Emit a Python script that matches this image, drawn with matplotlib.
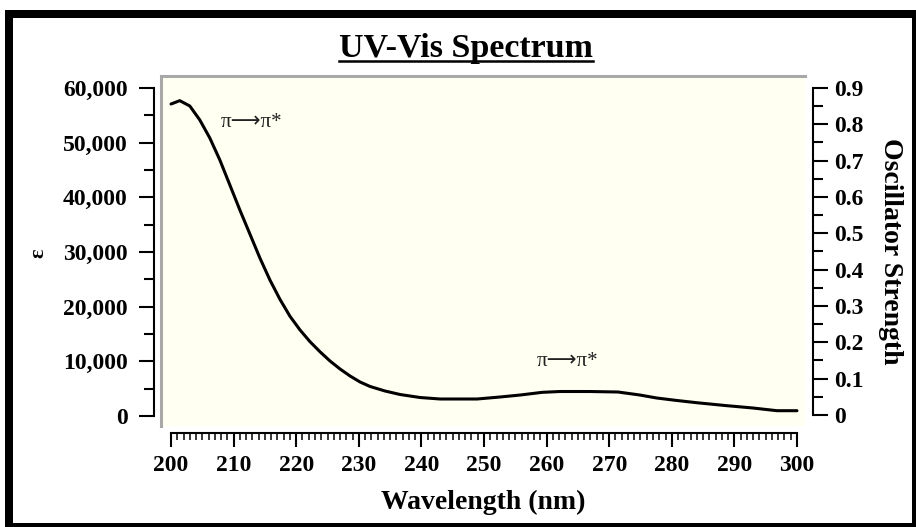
import matplotlib
matplotlib.use("Agg")
import matplotlib.pyplot as plt
from matplotlib.patches import Rectangle
from matplotlib.lines import Line2D
from matplotlib.ticker import FixedLocator, FuncFormatter

# ---------------- data ----------------
wavelength = [200, 201.4, 203, 204.6, 206.2, 207.8, 209.4, 211, 212.6, 214.2,
              215.8, 217.4, 219, 220.6, 222.2, 223.8, 225.4, 227, 228.6, 230.2,
              231.8, 234.2, 236.6, 239.8, 243, 248.9, 252.6, 255.8, 259.3, 262.1,
              266.9, 271.4, 274.9, 277.6, 280.8, 284, 288.5, 293, 296.8, 300]
epsilon = [57070, 57680, 56710, 54150, 50850, 46830, 42260, 37680, 33290, 28900,
           24880, 21350, 18250, 15750, 13600, 11750, 10060, 8600, 7320, 6220,
           5400, 4570, 3930, 3380, 3110, 3110, 3480, 3840, 4330, 4480,
           4480, 4390, 3840, 3290, 2840, 2430, 1920, 1460, 970, 970]
x_major = list(range(200, 301, 10))
x_minor = list(range(200, 301, 1))
eps_major = [0, 10000, 20000, 30000, 40000, 50000, 60000]
eps_minor = [5000, 15000, 25000, 35000, 45000, 55000]
osc_major = [0, 0.1, 0.2, 0.3, 0.4, 0.5, 0.6, 0.7, 0.8, 0.9]
osc_minor = [0.05, 0.15, 0.25, 0.35, 0.45, 0.55, 0.65, 0.75, 0.85]
annotations = [("π⟶π*", 212.8, 53780), ("π⟶π*", 263.3, 9880)]
title = "UV-Vis Spectrum"
xlabel = "Wavelength (nm)"
ylabel_left = "ε"
ylabel_right = "Oscillator Strength"

# ---------------- style ----------------
plt.rcParams['font.family'] = ['Liberation Serif', 'DejaVu Sans']
plt.rcParams['font.weight'] = 'bold'

W, H = 916, 527
fig = plt.figure(figsize=(W / 100, H / 100), dpi=100)
fig.patch.set_facecolor('white')


def px_axes(x0, y0, x1, y1):
    return fig.add_axes([x0 / W, 1 - y1 / H, (x1 - x0) / W, (y1 - y0) / H])


def fy(py):
    return 1 - py / H


XLIM = (198.40, 301.28)
YLIM = (-1829, 62195)
OLIM = (-0.0303, 0.933)
AX_LW = 1.5

# main plotting area
ax = px_axes(161, 76, 805, 426)
ax.set_facecolor('#FFFFF2')
ax.set_xlim(*XLIM)
ax.set_ylim(*YLIM)
for s in ['right', 'bottom']:
    ax.spines[s].set_visible(False)
for s in ['left', 'top']:
    ax.spines[s].set_color('#A8A8A8')
    ax.spines[s].set_linewidth(2.2)
ax.set_xticks([])
ax.set_yticks([])
ax.plot(wavelength, epsilon, color='black', lw=2.2, solid_joinstyle='round',
        solid_capstyle='round')
for txt, xv, yv in annotations:
    ax.text(xv, yv, txt, ha='center', va='center', fontsize=15,
            fontweight='normal', color='#222222')

# left axis
axl = px_axes(154, 76, 161, 426)
axl.patch.set_visible(False)
axl.set_ylim(*YLIM)
for s in ['right', 'top', 'bottom']:
    axl.spines[s].set_visible(False)
axl.spines['left'].set_bounds(0, 60000)
axl.spines['left'].set_linewidth(AX_LW)
axl.set_xticks([])
axl.yaxis.set_major_locator(FixedLocator(eps_major))
axl.yaxis.set_minor_locator(FixedLocator(eps_minor))
axl.yaxis.set_major_formatter(FuncFormatter(lambda v, p: f"{int(round(v)):,}"))
axl.tick_params(axis='y', which='major', direction='out', length=10.5,
                width=AX_LW, pad=8.5, labelsize=17)
axl.tick_params(axis='y', which='minor', direction='out', length=7.5,
                width=AX_LW)

# right axis
axr = px_axes(805, 76, 813, 426)
axr.patch.set_visible(False)
axr.set_ylim(*OLIM)
for s in ['left', 'top', 'bottom']:
    axr.spines[s].set_visible(False)
axr.spines['right'].set_bounds(0, 0.9)
axr.spines['right'].set_linewidth(AX_LW)
axr.set_xticks([])
axr.yaxis.tick_right()
axr.yaxis.set_major_locator(FixedLocator(osc_major))
axr.yaxis.set_minor_locator(FixedLocator(osc_minor))
axr.yaxis.set_major_formatter(FuncFormatter(lambda v, p: "0" if abs(v) < 1e-9 else f"{v:.1f}"))
axr.tick_params(axis='y', which='major', direction='out', length=10.5,
                width=AX_LW, pad=5, labelsize=17)
axr.tick_params(axis='y', which='minor', direction='out', length=7.5,
                width=AX_LW)

# bottom axis
axb = px_axes(161, 432, 805, 433)
axb.patch.set_visible(False)
axb.set_xlim(*XLIM)
for s in ['left', 'right', 'top']:
    axb.spines[s].set_visible(False)
axb.spines['bottom'].set_bounds(200, 300)
axb.spines['bottom'].set_linewidth(AX_LW)
axb.set_yticks([])
axb.xaxis.set_major_locator(FixedLocator(x_major))
axb.xaxis.set_minor_locator(FixedLocator(x_minor))
axb.tick_params(axis='x', which='major', direction='out', length=10,
                width=AX_LW, pad=6, labelsize=17)
axb.tick_params(axis='x', which='minor', direction='out', length=5,
                width=1.1)

# labels
fig.text(38 / W, fy(253), ylabel_left, rotation=90, ha='center', va='center',
         fontsize=16, fontweight='bold')
fig.text(890 / W, fy(251), ylabel_right, rotation=270, ha='center', va='center',
         fontsize=20, fontweight='bold')
fig.text(483 / W, fy(502), xlabel, ha='center', va='center', fontsize=20,
         fontweight='bold')
t = fig.text(466 / W, fy(57), title, ha='center', va='baseline', fontsize=24.5,
             fontweight='bold')

fig.canvas.draw()
bb = t.get_window_extent()
fig.add_artist(Line2D([bb.x0 / W, bb.x1 / W], [fy(61)] * 2,
                      transform=fig.transFigure, color='black', lw=1.8))


# black frame
def band(x0, y0, x1, y1):
    fig.add_artist(Rectangle((x0 / W, 1 - y1 / H), (x1 - x0) / W, (y1 - y0) / H,
                             transform=fig.transFigure, facecolor='black',
                             edgecolor='none'))


band(5, 10, 916, 18)
band(5, 10, 13, 527)
band(5, 523, 916, 527)
band(912, 10, 916, 527)

fig.savefig('out.png', dpi=100)
